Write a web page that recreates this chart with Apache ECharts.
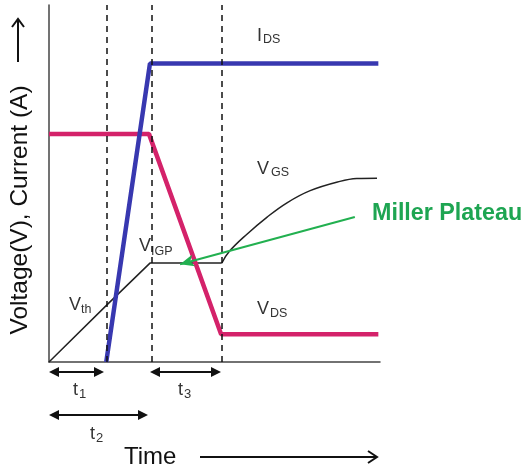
<!DOCTYPE html>
<html>
<head>
<meta charset="utf-8">
<script src="https://cdn.jsdelivr.net/npm/echarts@6/dist/echarts.min.js"></script>
<style>
  html, body { margin: 0; padding: 0; background: #fff; }
  #main { width: 529px; height: 470px; }
</style>
</head>
<body>
<div id="main"></div>
<script>
// time axis 0..100, level axis 0..100 (arbitrary units)
var timeMarks = [17.5, 31, 52.3];          // dashed lines: end of t1, t2, t3
var idsData = [[17.3, 0], [30.5, 83.6], [99.5, 83.6]];
var vdsData = [[0, 63.9], [30.2, 63.9], [52, 7.8], [99.5, 7.8]];
// gate voltage: straight rise + plateau, then the curved tail
var vgsRise = [[0, 0], [17.5, 16], [30.5, 27.7], [52.2, 27.7]];
var vgsTail = [[52.2, 27.7], [54.5, 31], [59.8, 35.8], [65.9, 40.6], [71.9, 44.6],
               [78.9, 48.0], [87.9, 50.6], [93, 51.4], [99.1, 51.5]];
var millerArrow = [[92.4, 40.6], [39.6, 27.4]];

var chart = echarts.init(document.getElementById('main'));
var txtColor = '#333';
var FONT = 'Liberation Sans';

function label(x, y, main, sub, sx, sy, size, subSize) {
    return [{
        type: 'text', x: x, y: y,
        style: { text: main, fill: txtColor, font: (size || 18) + 'px "' + FONT + '"', verticalAlign: 'middle' }
    }, {
        type: 'text', x: sx, y: sy,
        style: { text: sub, fill: txtColor, font: (subSize || 12.5) + 'px "' + FONT + '"', verticalAlign: 'middle' }
    }];
}

function dblArrow(x1, x2, y) {
    return [{
        type: 'line', shape: { x1: x1 + 4, y1: y, x2: x2 - 4, y2: y },
        style: { stroke: '#111', lineWidth: 2 }
    }, {
        type: 'polygon', shape: { points: [[x1, y], [x1 + 10, y - 5], [x1 + 10, y + 5]] },
        style: { fill: '#111' }
    }, {
        type: 'polygon', shape: { points: [[x2, y], [x2 - 10, y - 5], [x2 - 10, y + 5]] },
        style: { fill: '#111' }
    }];
}

var graphics = [].concat(
    label(257, 36, 'I', 'DS', 263, 40),
    label(257, 169, 'V', 'GS', 271, 173),
    label(257, 309, 'V', 'DS', 270, 314),
    label(139, 246, 'V', 'IGP', 151, 252),
    label(69, 305, 'V', 'th', 81, 310),
    label(73, 390, 't', '1', 79, 394, 18, 13),
    label(178, 390, 't', '3', 184, 394, 18, 13),
    label(90, 434, 't', '2', 96, 438, 18, 13),
    dblArrow(49, 104, 372),
    dblArrow(150, 221, 372),
    dblArrow(49, 148, 415),
    [{
        type: 'text', x: 20, y: 210, rotation: Math.PI / 2,
        style: { text: 'Voltage(V), Current (A)', fill: '#111', font: '24.5px "' + FONT + '"',
                 align: 'center', verticalAlign: 'middle' }
    }, {
        type: 'line', shape: { x1: 18, y1: 62, x2: 18, y2: 19 },
        style: { stroke: '#111', lineWidth: 2 }
    }, {
        type: 'polyline', shape: { points: [[12, 27], [18, 19], [24, 27]] },
        style: { stroke: '#111', lineWidth: 2, fill: null }
    }, {
        type: 'text', x: 124, y: 457,
        style: { text: 'Time', fill: '#111', font: '24px "' + FONT + '"', verticalAlign: 'middle' }
    }, {
        type: 'line', shape: { x1: 200, y1: 457, x2: 377, y2: 457 },
        style: { stroke: '#111', lineWidth: 2 }
    }, {
        type: 'polyline', shape: { points: [[368, 451], [377, 457], [368, 463]] },
        style: { stroke: '#111', lineWidth: 2, fill: null }
    }, {
        type: 'text', x: 372, y: 214,
        style: { text: 'Miller Plateau', fill: '#1ea552', font: 'bold 23.3px "' + FONT + '"', verticalAlign: 'middle' }
    }]
);

var option = {
    backgroundColor: '#fff',
    animation: false,
    grid: { left: 49, right: 149, top: 5, bottom: 108 },
    xAxis: {
        type: 'value', min: 0, max: 100,
        axisLine: { show: true, lineStyle: { color: '#444', width: 1.5 } },
        axisTick: { show: false },
        axisLabel: { show: false },
        splitLine: { show: false }
    },
    yAxis: {
        type: 'value', min: 0, max: 100,
        axisLine: { show: true, lineStyle: { color: '#444', width: 1.5 } },
        axisTick: { show: false },
        axisLabel: { show: false },
        splitLine: { show: false }
    },
    series: [{
        name: 'VGS',
        type: 'line',
        data: vgsRise,
        symbol: 'none',
        z: 2,
        lineStyle: { color: '#222', width: 1.5 },
        markLine: {
            silent: true,
            symbol: 'none',
            label: { show: false },
            lineStyle: { color: '#111', type: [6, 5], width: 1.5 },
            data: timeMarks.map(function (v) { return { xAxis: v }; })
        }
    }, {
        name: 'VGS tail',
        type: 'line',
        data: vgsTail,
        symbol: 'none',
        smooth: 0.4,
        z: 2,
        lineStyle: { color: '#222', width: 1.5 }
    }, {
        name: 'VDS',
        type: 'line',
        data: vdsData,
        symbol: 'none',
        z: 3,
        lineStyle: { color: '#d4226a', width: 4.5 }
    }, {
        name: 'IDS',
        type: 'line',
        data: idsData,
        symbol: 'none',
        z: 4,
        lineStyle: { color: '#3838b0', width: 4.5 },
        markLine: {
            silent: true,
            z: 6,
            label: { show: false },
            symbolSize: [9, 14],
            lineStyle: { color: '#22b050', width: 2, type: 'solid' },
            data: [[
                { coord: millerArrow[0], symbol: 'none' },
                { coord: millerArrow[1], symbol: 'arrow' }
            ]]
        }
    }],
    graphic: graphics
};

chart.setOption(option);
</script>
</body>
</html>
